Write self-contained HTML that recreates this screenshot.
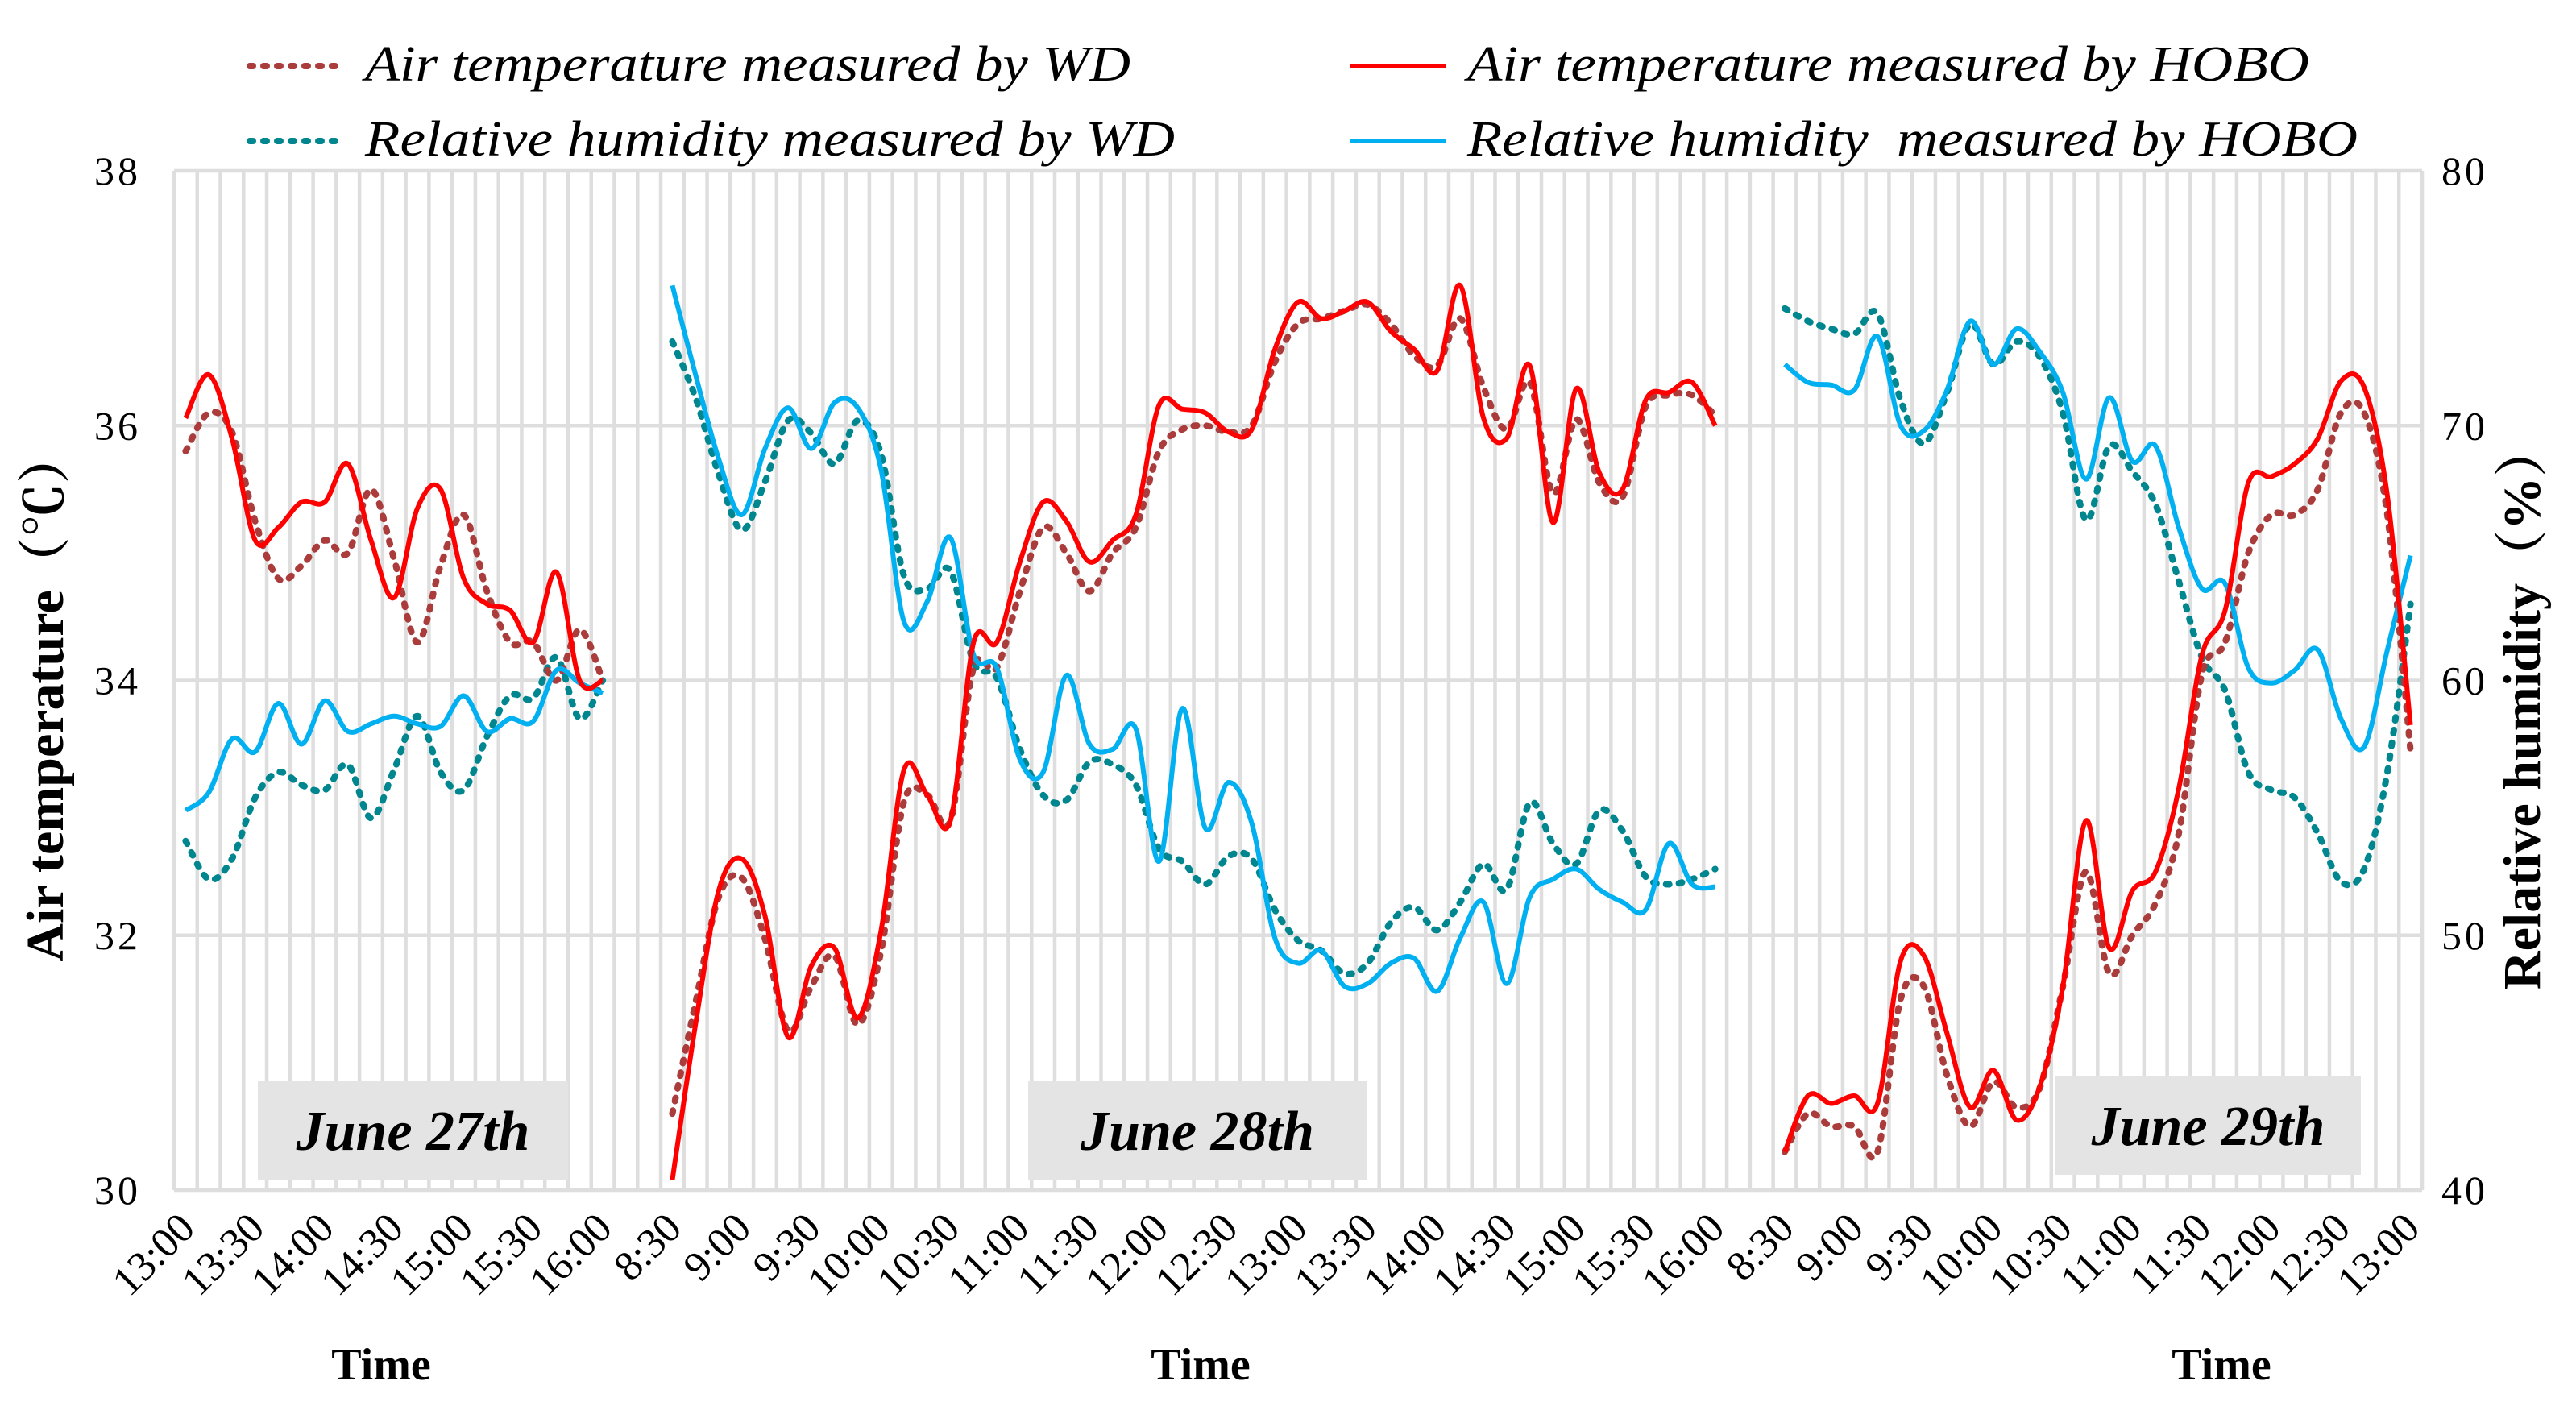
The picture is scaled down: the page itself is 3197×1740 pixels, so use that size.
<!DOCTYPE html>
<html><head><meta charset="utf-8"><style>
html,body{margin:0;padding:0;background:#fff;}
svg{display:block;}
</style></head><body>
<svg id="chart" width="3197" height="1740" viewBox="0 0 3197 1740" xmlns="http://www.w3.org/2000/svg" font-family="'Liberation Serif', serif">
<g id="grid"></g>
<g id="boxes"></g>
<g id="series"></g>
<g id="axes"></g>
<g id="legend">
  <line x1="310" y1="82" x2="418" y2="82" stroke="#ab3c3c" stroke-width="8" stroke-dasharray="4 13" stroke-linecap="round"/>
  <text x="453" y="100" font-size="62" font-style="italic" textLength="950" lengthAdjust="spacingAndGlyphs">Air temperature measured by WD</text>
  <line x1="310" y1="175" x2="418" y2="175" stroke="#00868f" stroke-width="8" stroke-dasharray="4 13" stroke-linecap="round"/>
  <text x="453" y="193" font-size="62" font-style="italic" textLength="1005" lengthAdjust="spacingAndGlyphs">Relative humidity measured by WD</text>
  <line x1="1676" y1="82" x2="1794" y2="82" stroke="#ff0000" stroke-width="6"/>
  <text x="1821" y="100" font-size="62" font-style="italic" textLength="1045" lengthAdjust="spacingAndGlyphs">Air temperature measured by HOBO</text>
  <line x1="1676" y1="175" x2="1794" y2="175" stroke="#00b0f0" stroke-width="6"/>
  <text x="1821" y="193" font-size="62" font-style="italic" textLength="1105" lengthAdjust="spacingAndGlyphs" xml:space="preserve">Relative humidity  measured by HOBO</text>
</g>
</svg>
<script>
const categories = [
"13:00","13:10","13:20","13:30","13:40","13:50","14:00","14:10","14:20","14:30","14:40","14:50","15:00","15:10","15:20","15:30","15:40","15:50","16:00",
"","",
"8:30","8:40","8:50","9:00","9:10","9:20","9:30","9:40","9:50","10:00","10:10","10:20","10:30","10:40","10:50","11:00","11:10","11:20","11:30","11:40","11:50","12:00","12:10","12:20","12:30","12:40","12:50","13:00","13:10","13:20","13:30","13:40","13:50","14:00","14:10","14:20","14:30","14:40","14:50","15:00","15:10","15:20","15:30","15:40","15:50","16:00",
"","",
"8:30","8:40","8:50","9:00","9:10","9:20","9:30","9:40","9:50","10:00","10:10","10:20","10:30","10:40","10:50","11:00","11:10","11:20","11:30","11:40","11:50","12:00","12:10","12:20","12:30","12:40","12:50","13:00"];
const tickLabels = ["13:00","13:30","14:00","14:30","15:00","15:30","16:00","8:30","9:00","9:30","10:00","10:30","11:00","11:30","12:00","12:30","13:00","13:30","14:00","14:30","15:00","15:30","16:00","8:30","9:00","9:30","10:00","10:30","11:00","11:30","12:00","12:30","13:00"];
const tempHobo = [36.06,36.4,35.9,35.1,35.2,35.4,35.4,35.7,35.1,34.65,35.35,35.5,34.8,34.6,34.55,34.3,34.85,34.0,34.0,
null,null,
30.08,31.3,32.35,32.6,32.15,31.2,31.76,31.9,31.35,32.03,33.3,33.1,32.9,34.3,34.3,34.93,35.4,35.25,34.93,35.1,35.3,36.16,36.13,36.1,35.95,35.97,36.6,36.97,36.84,36.9,36.97,36.74,36.6,36.43,37.1,36.06,35.9,36.47,35.24,36.29,35.63,35.5,36.2,36.26,36.34,36.0,
null,null,
30.3,30.74,30.68,30.74,30.68,31.8,31.84,31.23,30.65,30.94,30.55,30.81,31.6,32.9,31.9,32.35,32.5,33.15,34.2,34.55,35.55,35.6,35.7,35.9,36.35,36.3,35.45,33.65];
const tempWD = [35.8,36.1,35.95,35.25,34.8,34.9,35.1,35.0,35.5,34.95,34.3,34.9,35.3,34.7,34.3,34.3,34.0,34.4,34.0,
null,null,
30.6,31.47,32.3,32.45,31.97,31.25,31.6,31.84,31.3,31.87,33.05,33.1,32.9,34.1,34.1,34.7,35.2,35.0,34.7,35.0,35.2,35.8,35.97,36.0,35.95,36.0,36.5,36.8,36.84,36.9,36.95,36.8,36.55,36.47,36.84,36.3,35.97,36.34,35.47,36.05,35.55,35.44,36.15,36.24,36.24,36.08,
null,null,
30.3,30.6,30.5,30.5,30.3,31.5,31.6,30.9,30.5,30.85,30.65,30.8,31.6,32.5,31.7,32.0,32.25,32.8,34.05,34.3,35.0,35.3,35.3,35.5,36.1,36.1,35.3,33.45];
const rhHobo = [54.9,55.6,57.7,57.2,59.1,57.5,59.2,58.0,58.3,58.6,58.3,58.2,59.4,58.0,58.5,58.4,60.4,59.9,59.5,
null,null,
75.5,72.0,68.7,66.5,69.1,70.7,69.1,70.9,70.7,68.3,62.3,63.1,65.6,61.0,60.5,56.9,56.4,60.2,57.5,57.3,58.1,52.9,58.9,54.2,56.0,54.4,49.9,48.9,49.4,48.0,48.1,48.9,49.1,47.8,49.9,51.3,48.1,51.5,52.2,52.6,51.8,51.3,51.0,53.6,52.0,51.9,
null,null,
72.4,71.7,71.6,71.4,73.5,70.0,69.8,71.4,74.1,72.4,73.8,72.9,71.3,67.9,71.1,68.6,69.2,66.0,63.6,63.8,60.5,59.9,60.4,61.2,58.5,57.4,61.2,64.9];
const rhWD = [53.7,52.2,53.0,55.4,56.4,55.9,55.7,56.7,54.6,56.5,58.6,56.4,55.7,57.8,59.4,59.3,60.9,58.5,60.0,
null,null,
73.3,71.1,68.1,65.9,67.8,70.2,69.7,68.5,70.2,68.9,64.1,63.6,64.3,60.7,60.1,57.3,55.5,55.3,56.8,56.7,55.9,53.4,52.9,52.0,53.1,53.0,51.0,49.8,49.4,48.5,48.9,50.5,51.1,50.2,51.3,52.8,51.8,55.2,53.6,52.8,54.9,54.1,52.3,52.0,52.2,52.6,
null,null,
74.6,74.1,73.8,73.6,74.4,71.0,69.3,71.3,74.0,72.4,73.3,72.7,70.5,66.3,69.2,68.2,66.9,63.9,60.9,59.6,56.4,55.7,55.4,54.0,52.1,52.6,56.4,63.0];
const tempTicks = [30,32,34,36,38];
const rhTicks = [40,50,60,70,80];
const dayLabels = ["June 27th","June 28th","June 29th"];

const NS = "http://www.w3.org/2000/svg";
const L = 216, R = 3006, T = 212, B = 1477;
const N = categories.length;
const cw = (R - L) / N;
function xPos(i){ return L + cw * (i + 0.5); }
function yT(v){ return B - (v - 30) / 8 * (B - T); }
function yH(v){ return B - (v - 40) / 40 * (B - T); }
function mk(tag, attrs, parent){ const e = document.createElementNS(NS, tag); for (const k in attrs) e.setAttribute(k, attrs[k]); parent.appendChild(e); return e; }

const grid = document.getElementById('grid');
for (let i = 0; i <= N; i++) {
  const ln = mk('line', {x1: L + cw*i, x2: L + cw*i, y1: T, y2: B, stroke: '#dedede', 'stroke-width': 4.5}, grid);
  
  
}
tempTicks.forEach(v => {
  const ln = mk('line', {x1: L, x2: R, y1: yT(v), y2: yT(v), stroke: '#dedede', 'stroke-width': 4.5}, grid);
  
  
});

const boxes = document.getElementById('boxes');
const boxSpec = [[320,1342,385,122],[1276,1342,420,122],[2551,1336,379,122]];
dayLabels.forEach((d, k) => {
  const b = boxSpec[k];
  const r = mk('rect', {x: b[0], y: b[1], width: b[2], height: b[3], fill: '#e4e4e4'}, boxes);
  
  
  const t = mk('text', {x: b[0] + b[2]/2, y: b[1] + b[3]/2 + 24, 'text-anchor': 'middle', 'font-size': 70, 'font-weight': 'bold', 'font-style': 'italic', fill: '#000'}, boxes);
  t.textContent = d;
  
  
});

function smoothPath(vals, yf){
  const segs = []; let cur = [];
  vals.forEach((v, i) => { if (v === null) { if (cur.length) segs.push(cur); cur = []; } else cur.push([xPos(i), yf(v)]); });
  if (cur.length) segs.push(cur);
  let d = '';
  segs.forEach(p => {
    d += 'M' + p[0][0].toFixed(1) + ',' + p[0][1].toFixed(1);
    for (let i = 0; i < p.length - 1; i++) {
      const p0 = p[Math.max(0, i-1)], p1 = p[i], p2 = p[i+1], p3 = p[Math.min(p.length-1, i+2)];
      const t = 1/6;
      const c1 = [p1[0] + (p2[0]-p0[0])*t, p1[1] + (p2[1]-p0[1])*t];
      const c2 = [p2[0] - (p3[0]-p1[0])*t, p2[1] - (p3[1]-p1[1])*t];
      d += 'C' + c1[0].toFixed(1) + ',' + c1[1].toFixed(1) + ' ' + c2[0].toFixed(1) + ',' + c2[1].toFixed(1) + ' ' + p2[0].toFixed(1) + ',' + p2[1].toFixed(1);
    }
  });
  return d;
}
const series = document.getElementById('series');
const s1 = mk('path', {d: smoothPath(rhWD, yH), fill: 'none', stroke: '#00868f', 'stroke-width': 8, 'stroke-dasharray': '4 12', 'stroke-linecap': 'round'}, series);


const s2 = mk('path', {d: smoothPath(tempWD, yT), fill: 'none', stroke: '#ab3c3c', 'stroke-width': 8, 'stroke-dasharray': '4 12', 'stroke-linecap': 'round'}, series);


const s3 = mk('path', {d: smoothPath(rhHobo, yH), fill: 'none', stroke: '#00b0f0', 'stroke-width': 6}, series);


const s4 = mk('path', {d: smoothPath(tempHobo, yT), fill: 'none', stroke: '#ff0000', 'stroke-width': 6}, series);



const axes = document.getElementById('axes');
tempTicks.forEach(v => {
  const t = mk('text', {x: 175, y: yT(v) + 17, 'text-anchor': 'end', 'font-size': 50, 'letter-spacing': 4, fill: '#000'}, axes);
  t.textContent = v;
  
  
});
rhTicks.forEach(v => {
  const t = mk('text', {x: 3030, y: yH(v) + 17, 'text-anchor': 'start', 'font-size': 50, 'letter-spacing': 4, fill: '#000'}, axes);
  t.textContent = v;
  
  
});
let tk = 0;
categories.forEach((c, i) => {
  if (c === '' || c !== tickLabels[tk]) return;
  tk++;
  const x = xPos(i) + 14, y = B + 50;
  const t = mk('text', {x: x, y: y, 'text-anchor': 'end', 'font-size': 52, fill: '#000', transform: 'rotate(-45 ' + x + ' ' + y + ')'}, axes);
  t.textContent = c;
  
  
});
[473, 1490, 2757].forEach(x => {
  const t = mk('text', {x: x, y: 1712, 'text-anchor': 'middle', 'font-size': 56, 'font-weight': 'bold', fill: '#000'}, axes);
  t.textContent = 'Time';
  
  
});
const yl = mk('text', {x: 0, y: 0, 'text-anchor': 'middle', 'font-size': 66, 'font-weight': 'bold', fill: '#000', transform: 'translate(78 864) rotate(-90)'}, axes);
yl.textContent = 'Air temperature（℃）';
yl.setAttribute('font-family', "'Liberation Serif','Noto Serif CJK SC',serif");


const yr = mk('text', {x: 0, y: 0, 'text-anchor': 'middle', 'font-size': 66, 'font-weight': 'bold', fill: '#000', transform: 'translate(3152 877) rotate(-90)'}, axes);
yr.textContent = 'Relative humidity（%）';
yr.setAttribute('font-family', "'Liberation Serif','Noto Serif CJK SC',serif");


</script>
</body></html>
